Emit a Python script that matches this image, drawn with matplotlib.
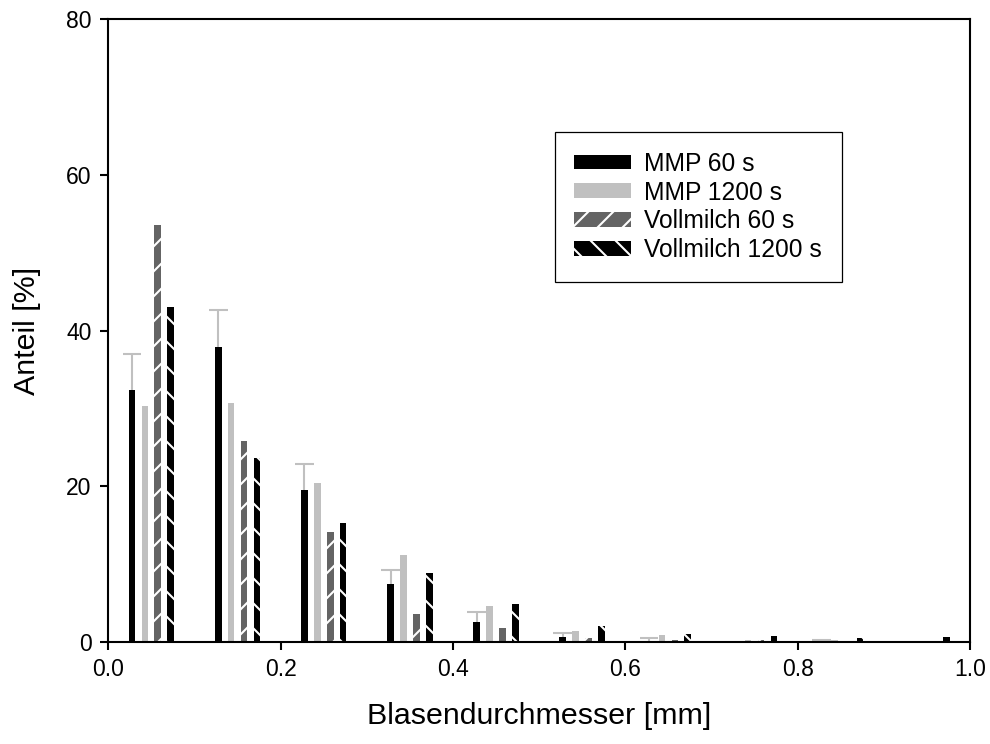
import numpy as np
import matplotlib
matplotlib.use("Agg")
import matplotlib.pyplot as plt

plt.rcParams['font.family'] = ['Liberation Sans', 'DejaVu Sans']
plt.rcParams['hatch.linewidth'] = 1.0

# bin centres (mm) and shares (%)
centers = np.array([0.05, 0.15, 0.25, 0.35, 0.45, 0.55, 0.65, 0.75, 0.85, 0.95])
mmp60 = [32.3, 37.9, 19.5, 7.4, 2.5, 0.6, 0.1, 0.0, 0.0, 0.0]
mmp60_err = [4.7, 4.8, 3.4, 1.8, 1.3, 0.5, 0.4, 0.0, 0.2, 0.0]
mmp1200 = [30.3, 30.7, 20.4, 11.1, 4.6, 1.4, 0.85, 0.2, 0.2, 0.1]
voll60 = [53.6, 25.8, 14.1, 3.5, 1.7, 0.5, 0.2, 0.25, 0.1, 0.1]
voll1200 = [43.0, 23.6, 15.2, 8.8, 4.8, 2.0, 1.0, 0.7, 0.5, 0.6]
labels = ["MMP 60 s", "MMP 1200 s", "Vollmilch 60 s", "Vollmilch 1200 s"]

fig = plt.figure(figsize=(6.6, 4.96), dpi=150)
ax = fig.add_axes([0.1094, 0.1375, 0.8704, 0.8365])

w = 0.0078
offs = [-0.0225, -0.0075, 0.0075, 0.0225]

ax.bar(centers + offs[0], mmp60, w, color='black', linewidth=0, label=labels[0], zorder=2)
ax.bar(centers + offs[1], mmp1200, w, color='#c0c0c0', linewidth=0, label=labels[1], zorder=2)
ax.bar(centers + offs[2], voll60, w, color='#646464', edgecolor='white', linewidth=0,
       hatch='//', label=labels[2], zorder=2)
ax.bar(centers + offs[3], voll1200, w, color='black', edgecolor='white', linewidth=0,
       hatch='\\\\', label=labels[3], zorder=2)

# upper error bars only (MMP 60 s)
err = np.array(mmp60_err)
m = err > 0
xe = (centers + offs[0])[m]
ye = np.array(mmp60)[m]
ax.vlines(xe, ye, ye + err[m], colors='#c0c0c0', linewidth=1.0, zorder=1)
ax.hlines(ye + err[m], xe - 0.011, xe + 0.011, colors='#c0c0c0', linewidth=1.0, zorder=1)

ax.set_xlim(0, 1.0)
ax.set_ylim(0, 80)
ax.set_xticks([0.0, 0.2, 0.4, 0.6, 0.8, 1.0])
ax.set_xticklabels(["0.0", "0.2", "0.4", "0.6", "0.8", "1.0"])
ax.set_yticks([0, 20, 40, 60, 80])
ax.tick_params(direction='out', length=4, width=1, labelsize=11, pad=4)
for s in ax.spines.values():
    s.set_linewidth(1.0)

ax.set_xlabel("Blasendurchmesser [mm]", fontsize=14.6, labelpad=10)
ax.set_ylabel("Anteil [%]", fontsize=14.6, labelpad=12)

leg = ax.legend(loc='upper left', bbox_to_anchor=(0.518, 0.819), fontsize=11.8,
                frameon=True, fancybox=False, edgecolor='black', framealpha=1,
                handlelength=2.3, handleheight=0.55, handletextpad=0.55,
                labelspacing=0.2, borderpad=0.8, borderaxespad=0)
leg.get_frame().set_linewidth(0.6)

fig.savefig("out.png", dpi=150)
